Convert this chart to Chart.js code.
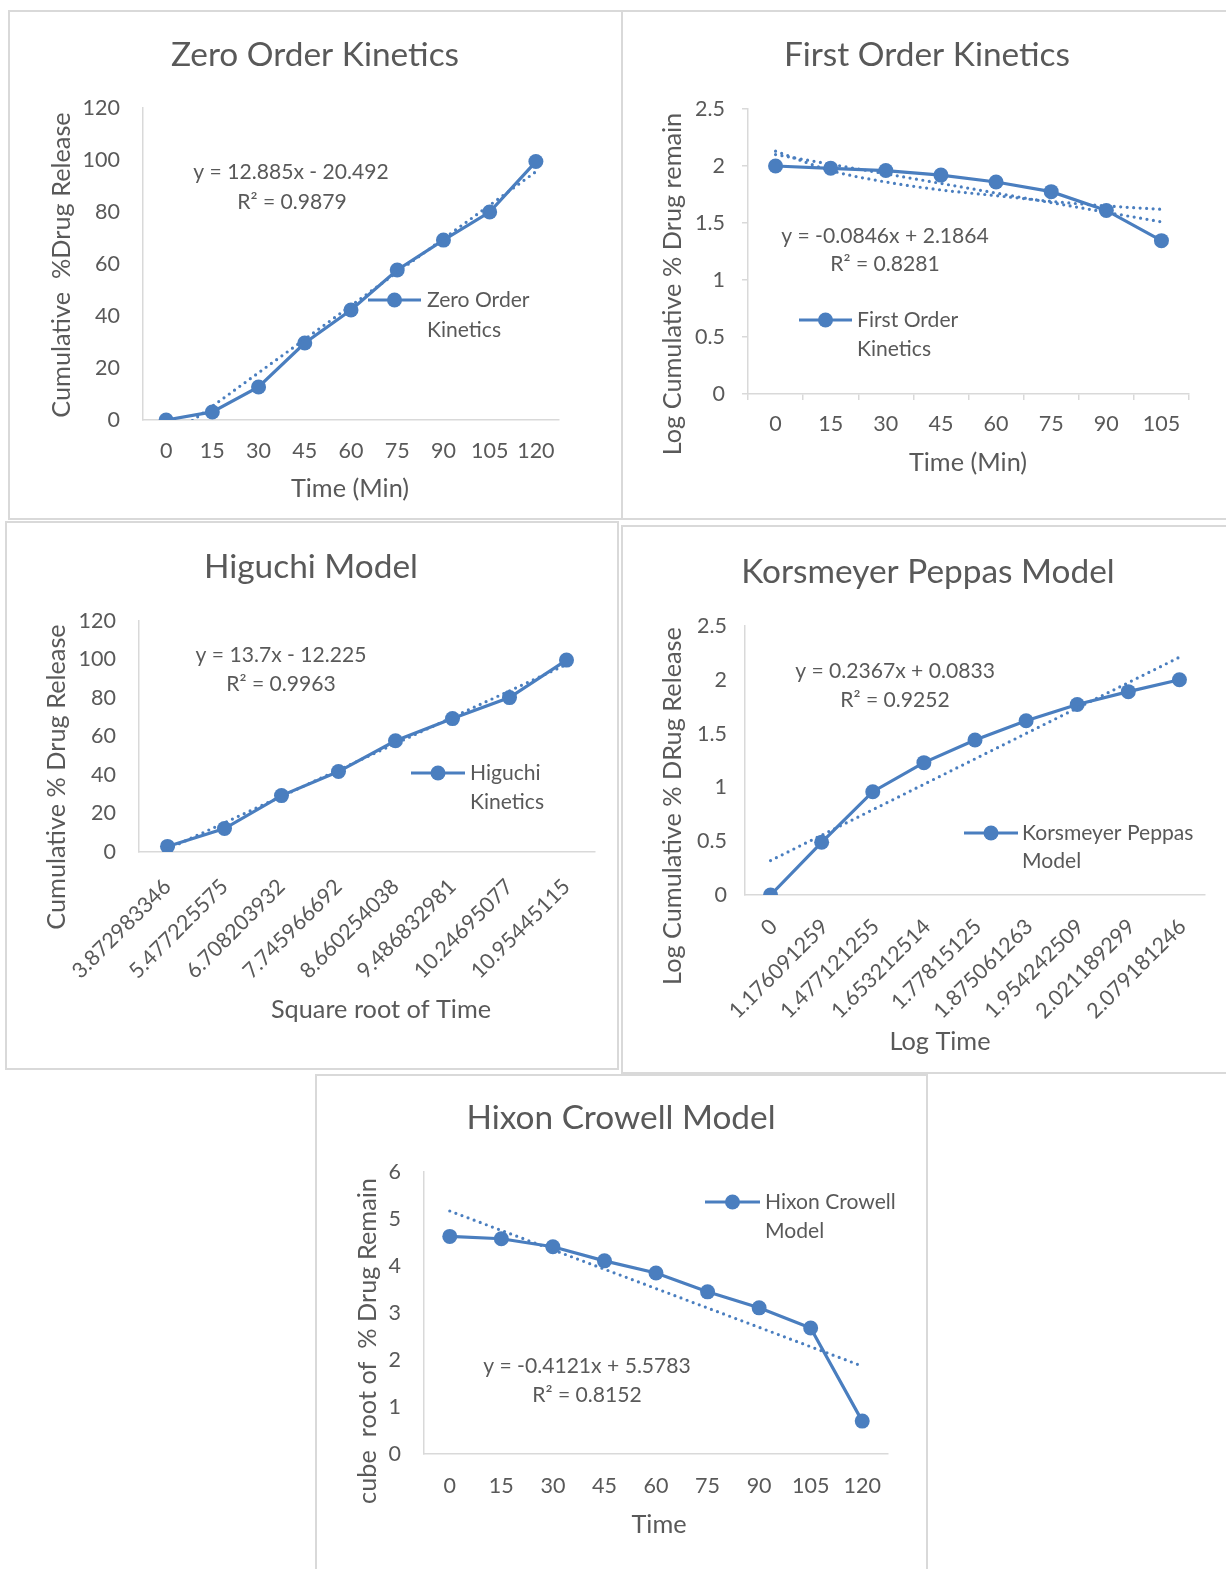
<!DOCTYPE html>
<html>
<head>
<meta charset="utf-8">
<script src="https://cdn.jsdelivr.net/npm/chart.js@4.4.1/dist/chart.umd.min.js"></script>
<style>
html,body{margin:0;padding:0;background:#ffffff;}
body{width:1226px;height:1569px;position:relative;overflow:hidden;}
canvas{position:absolute;}
.frame{position:absolute;box-sizing:border-box;border:2px solid #d9d9d9;pointer-events:none;}
</style>
</head>
<body>
<canvas id="zero"></canvas>
<canvas id="first"></canvas>
<canvas id="higuchi"></canvas>
<canvas id="kp"></canvas>
<canvas id="hixon"></canvas>
<div class="frame" style="left:8px;top:10px;width:615px;height:510px;"></div>
<div class="frame" style="left:621px;top:10px;width:610px;height:510px;"></div>
<div class="frame" style="left:5px;top:521px;width:614px;height:549px;"></div>
<div class="frame" style="left:621px;top:525px;width:610px;height:549px;"></div>
<div class="frame" style="left:315px;top:1074px;width:613px;height:500px;"></div>
<script>
// ---------------- data ----------------
const zeroTime = ['0', '15', '30', '45', '60', '75', '90', '105', '120'];
const zeroRelease = [0, 3.1, 12.7, 29.6, 42.3, 57.7, 69.2, 80.0, 99.4];
const zeroTrendEnds = [-7.6, 95.5];

const firstTime = ['0', '15', '30', '45', '60', '75', '90', '105'];
const firstLogRemain = [2.0, 1.98, 1.96, 1.92, 1.86, 1.775, 1.61, 1.345];
const firstTrendEnds = [2.10, 1.51];
const firstCurveTrend = [2.13, 1.96, 1.86, 1.79, 1.74, 1.69, 1.65, 1.62];

const higuchiRootTime = ['3.872983346', '5.477225575', '6.708203932', '7.745966692',
  '8.660254038', '9.486832981', '10.24695077', '10.95445115'];
const higuchiRelease = [2.9, 12.2, 29.3, 41.8, 57.8, 69.3, 80.2, 99.7];
const higuchiTrendEnds = [1.5, 97.4];

const kpLogTime = ['0', '1.176091259', '1.477121255', '1.653212514', '1.77815125',
  '1.875061263', '1.954242509', '2.021189299', '2.079181246'];
const kpLogRelease = [0, 0.49, 0.96, 1.23, 1.44, 1.62, 1.77, 1.89, 2.0];
const kpTrendEnds = [0.32, 2.21];

const hcTime = ['0', '15', '30', '45', '60', '75', '90', '105', '120'];
const hcCubeRootRemain = [4.63, 4.58, 4.41, 4.11, 3.85, 3.45, 3.11, 2.68, 0.70];
const hcTrendEnds = [5.17, 1.87];

// ---------------- styling ----------------
const FONT = 'Lato, "Open Sans", sans-serif';
const TEXT = '#595959';
const BLUE = '#4A7EBF';
const AXIS = '#D9D9D9';

const mctx = document.createElement('canvas').getContext('2d');
function fit(text, w) {
  mctx.font = '100px ' + FONT;
  return Math.round(1000 * w / mctx.measureText(text).width) / 10;
}
const TITLE_PX = fit('Zero Order Kinetics', 288);
const TEXT_PX = fit('y = 12.885x - 20.492', 195);
const AXIS_TITLE_PX = fit('Time (Min)', 118);
const TICK_PX = fit('3.872983346', 130);

function ends(pair, n) {
  const a = new Array(n).fill(null);
  a[0] = pair[0];
  a[n - 1] = pair[1];
  return a;
}
function seriesDs(label, data) {
  return {
    label, data, borderColor: BLUE, backgroundColor: BLUE, borderWidth: 3.2,
    pointRadius: 7.5, pointHoverRadius: 7.5, pointBorderWidth: 0, pointBackgroundColor: BLUE,
    tension: 0, order: 2
  };
}
function trendDs(data, smooth) {
  return {
    label: 'trend', data, borderColor: BLUE, borderWidth: 3.2, borderDash: [0, 6.5],
    borderCapStyle: 'round', pointRadius: 0, pointHoverRadius: 0, spanGaps: true,
    tension: smooth ? 0.4 : 0, cubicInterpolationMode: smooth ? 'monotone' : 'default', order: 1
  };
}

const annotPlugin = {
  id: 'annot',
  afterDraw(chart, args, o) {
    const ctx = chart.ctx;
    const ox = o.ox, oy = o.oy;
    ctx.save();
    ctx.textBaseline = 'middle';
    ctx.fillStyle = TEXT;
    // title
    ctx.textAlign = 'center';
    ctx.font = TITLE_PX + 'px ' + FONT;
    ctx.fillText(o.title[0], o.title[1] - ox, o.title[2] - oy);
    // axis titles
    ctx.font = AXIS_TITLE_PX + 'px ' + FONT;
    ctx.fillText(o.xTitle[0], o.xTitle[1] - ox, o.xTitle[2] - oy);
    ctx.save();
    ctx.translate(o.yTitle[1] - ox, o.yTitle[2] - oy);
    ctx.rotate(-Math.PI / 2);
    ctx.fillText(o.yTitle[0], 0, 0);
    ctx.restore();
    // equation
    ctx.font = TEXT_PX + 'px ' + FONT;
    ctx.fillText(o.eq[0], o.eq[1] - ox, o.eq[2] - oy);
    ctx.fillText(o.r2[0], o.r2[1] - ox, o.r2[2] - oy);
    // legend
    const lg = o.legend;
    ctx.strokeStyle = BLUE;
    ctx.lineWidth = 3.2;
    ctx.beginPath();
    ctx.moveTo(lg.x1 - ox, lg.y - oy);
    ctx.lineTo(lg.x2 - ox, lg.y - oy);
    ctx.stroke();
    ctx.fillStyle = BLUE;
    ctx.beginPath();
    ctx.arc((lg.x1 + lg.x2) / 2 - ox, lg.y - oy, 7.5, 0, Math.PI * 2);
    ctx.fill();
    ctx.fillStyle = TEXT;
    ctx.textAlign = 'left';
    lg.lines.forEach((t, i) => ctx.fillText(t, lg.tx - ox, lg.y + i * lg.dy - oy));
    ctx.restore();
  }
};

function build(cfg) {
  const box = cfg.box, area = cfg.area;
  const cv = document.getElementById(cfg.id);
  cv.width = box.w; cv.height = box.h;
  cv.style.left = box.x + 'px'; cv.style.top = box.y + 'px';
  const yW = area.l - box.x;
  const topPad = area.t - box.y;
  const rightPad = box.x + box.w - area.r;
  const xH = box.y + box.h - area.b;
  const tl = cfg.tickMarks ? 6 : 0;
  const tickFont = { family: FONT, size: TICK_PX };
  const xPad = cfg.rot ? cfg.xLabelPad : (cfg.xLabelCy - area.b) - tl - TICK_PX * 1.2 / 2;
  const yPad = (area.l - cfg.yLabelRight) - tl;
  const gridOpts = {
    display: !!cfg.tickMarks, drawOnChartArea: false, drawTicks: !!cfg.tickMarks,
    tickLength: 6, color: AXIS, lineWidth: 1.5
  };
  new Chart(cv, {
    type: 'line',
    data: { labels: cfg.labels, datasets: cfg.datasets },
    options: {
      responsive: false, animation: false, devicePixelRatio: 1,
      layout: { padding: { left: 0, top: topPad, right: rightPad, bottom: 0 } },
      plugins: {
        legend: { display: false }, tooltip: { enabled: false },
        annot: Object.assign({ ox: box.x, oy: box.y }, cfg.annot)
      },
      scales: {
        x: {
          type: 'category', offset: true,
          grid: Object.assign({}, gridOpts, { offset: true }),
          border: { display: true, color: AXIS, width: 1.5 },
          ticks: {
            font: tickFont, color: TEXT, padding: xPad, autoSkip: false,
            maxRotation: cfg.rot || 0, minRotation: cfg.rot || 0, labelOffset: cfg.rot ? cfg.labelOffset : 0
          },
          afterFit(s) { s.height = xH; }
        },
        y: {
          min: cfg.yMin, max: cfg.yMax,
          grid: gridOpts,
          border: { display: true, color: AXIS, width: 1.5 },
          ticks: { font: tickFont, color: TEXT, padding: yPad, stepSize: cfg.step, callback: v => String(v) },
          afterFit(s) { s.width = yW; }
        }
      }
    },
    plugins: [annotPlugin]
  });
}

// ---------------- Zero order ----------------
build({
  id: 'zero', box: { x: 8, y: 10, w: 615, h: 510 }, area: { l: 143, t: 108, r: 559, b: 420 },
  labels: zeroTime,
  datasets: [trendDs(ends(zeroTrendEnds, zeroTime.length)), seriesDs('Zero Order Kinetics', zeroRelease)],
  yMin: 0, yMax: 120, step: 20, xLabelCy: 451, yLabelRight: 120,
  annot: {
    title: ['Zero Order Kinetics', 315, 55],
    xTitle: ['Time (Min)', 350, 489],
    yTitle: ['Cumulative  %Drug Release', 62, 265],
    eq: ['y = 12.885x - 20.492', 291, 172],
    r2: ['R² = 0.9879', 292, 202],
    legend: { x1: 368, x2: 421, y: 300, tx: 427, dy: 30, lines: ['Zero Order', 'Kinetics'] }
  }
});

// ---------------- First order ----------------
build({
  id: 'first', box: { x: 621, y: 10, w: 605, h: 510 }, area: { l: 748, t: 109, r: 1189, b: 394 },
  labels: firstTime,
  datasets: [trendDs(ends(firstTrendEnds, firstTime.length)), trendDs(firstCurveTrend, true),
    seriesDs('First Order Kinetics', firstLogRemain)],
  yMin: 0, yMax: 2.5, step: 0.5, xLabelCy: 424, yLabelRight: 725, tickMarks: true,
  annot: {
    title: ['First Order Kinetics', 927, 55],
    xTitle: ['Time (Min)', 968, 463],
    yTitle: ['Log Cumulative % Drug remain', 673, 284],
    eq: ['y = -0.0846x + 2.1864', 885, 236],
    r2: ['R² = 0.8281', 885, 264],
    legend: { x1: 799, x2: 852, y: 320, tx: 857, dy: 29, lines: ['First Order', 'Kinetics'] }
  }
});

// ---------------- Higuchi ----------------
build({
  id: 'higuchi', box: { x: 5, y: 521, w: 614, h: 549 }, area: { l: 139, t: 621, r: 595, b: 852 },
  labels: higuchiRootTime,
  datasets: [trendDs(ends(higuchiTrendEnds, higuchiRootTime.length)), seriesDs('Higuchi Kinetics', higuchiRelease)],
  yMin: 0, yMax: 120, step: 20, rot: 45, xLabelPad: 22, labelOffset: 0, yLabelRight: 116,
  annot: {
    title: ['Higuchi Model', 311, 567],
    xTitle: ['Square root of Time', 381, 1010],
    yTitle: ['Cumulative % Drug Release', 57, 777],
    eq: ['y = 13.7x - 12.225', 281, 655],
    r2: ['R² = 0.9963', 281, 684],
    legend: { x1: 411, x2: 465, y: 773, tx: 470, dy: 29, lines: ['Higuchi', 'Kinetics'] }
  }
});

// ---------------- Korsmeyer Peppas ----------------
build({
  id: 'kp', box: { x: 621, y: 525, w: 605, h: 549 }, area: { l: 745, t: 626, r: 1205, b: 895 },
  labels: kpLogTime,
  datasets: [trendDs(ends(kpTrendEnds, kpLogTime.length)), seriesDs('Korsmeyer Peppas Model', kpLogRelease)],
  yMin: 0, yMax: 2.5, step: 0.5, rot: 45, xLabelPad: 19, labelOffset: 3, yLabelRight: 727,
  annot: {
    title: ['Korsmeyer Peppas Model', 928, 572],
    xTitle: ['Log Time', 940, 1042],
    yTitle: ['Log Cumulative % DRug Release', 673, 806],
    eq: ['y = 0.2367x + 0.0833', 895, 671],
    r2: ['R² = 0.9252', 895, 700],
    legend: { x1: 964, x2: 1018, y: 833, tx: 1022, dy: 28, lines: ['Korsmeyer Peppas', 'Model'] }
  }
});

// ---------------- Hixon Crowell ----------------
build({
  id: 'hixon', box: { x: 315, y: 1074, w: 613, h: 495 }, area: { l: 424, t: 1172, r: 888, b: 1454 },
  labels: hcTime,
  datasets: [trendDs(ends(hcTrendEnds, hcTime.length)), seriesDs('Hixon Crowell Model', hcCubeRootRemain)],
  yMin: 0, yMax: 6, step: 1, xLabelCy: 1486, yLabelRight: 401,
  annot: {
    title: ['Hixon Crowell Model', 621, 1118],
    xTitle: ['Time', 659, 1525],
    yTitle: ['cube  root of  % Drug Remain', 368, 1341],
    eq: ['y = -0.4121x + 5.5783', 587, 1366],
    r2: ['R² = 0.8152', 587, 1395],
    legend: { x1: 705, x2: 760, y: 1202, tx: 765, dy: 29, lines: ['Hixon Crowell', 'Model'] }
  }
});
</script>
</body>
</html>
